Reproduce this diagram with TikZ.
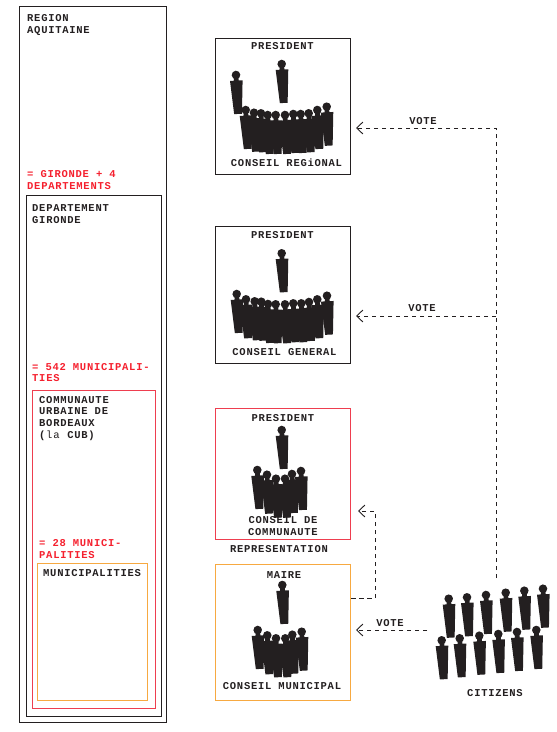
\documentclass[tikz,border=0pt]{standalone}
\usepackage{fontspec}
\usepackage{xcolor}
\usetikzlibrary{arrows.meta}
\newfontfamily\lblfont[LetterSpace=7,BoldFont={Liberation Mono Bold}]{Liberation Mono}
\definecolor{inkk}{HTML}{231F20}
\definecolor{redtxt}{HTML}{F5202E}
\definecolor{redbox}{HTML}{EE3E4F}
\definecolor{orgbox}{HTML}{F7A941}
\begin{document}
\begin{tikzpicture}[
  x=1pt, y=-1pt,
  font=\fontsize{10.5}{11.6}\selectfont\lblfont\bfseries,
  bx/.style={rectangle, draw=inkk, line width=0.9pt, fill=none, inner sep=0pt},
  rbx/.style={bx, draw=redbox},
  obx/.style={bx, draw=orgbox},
  lb/.style={text=inkk, inner sep=0pt, anchor=base},
  ll/.style={lb, anchor=base west, align=left},
  rl/.style={ll, text=redtxt},
  vote/.style={-{Straight Barb[length=2.2mm,width=4.2mm]}, dash pattern=on 4.5pt off 3.5pt, line width=0.9pt, draw=inkk},
  pers/.pic={
    \fill[inkk] (0,0) circle (4.3);
    \fill[inkk] (-2.2,2) -- (2.2,2) -- (2.4,5.6) -- (6.3,5.6) -- (3.9,39) -- (-3.9,39) -- (-6.3,5.6) -- (-2.4,5.6) -- cycle;
  }
]
  \useasboundingbox (0,0) rectangle (557,732);

  \node[bx, minimum width=147pt, minimum height=716pt] (aquitaine) at (92.5,364) {};
  \node[bx, minimum width=135pt, minimum height=521pt] (gironde) at (93.5,455.5) {};
  \node[rbx, minimum width=123pt, minimum height=318pt] (cub) at (93.5,549) {};
  \node[obx, minimum width=110pt, minimum height=137pt] (munis) at (92,631.5) {};

  \node[bx, minimum width=135pt, minimum height=136pt] (regional) at (282.5,106) {};
  \node[bx, minimum width=135pt, minimum height=137pt] (general) at (282.5,294.5) {};
  \node[rbx, minimum width=135pt, minimum height=131pt] (communaute) at (282.5,473.5) {};
  \node[obx, minimum width=135pt, minimum height=136pt] (municipal) at (282.5,632) {};

  \node[ll] (aqlbl) at (27,33) {REGION\\AQUITAINE};
  \node[rl] (girlbl) at (27,189) {= GIRONDE + 4\\DEPARTEMENTS};
  \node[ll] (deplbl) at (32,223) {DEPARTEMENT\\GIRONDE};
  \node[rl] (n542) at (32,381.7) {= 542 MUNICIPALI-\\TIES};
  \node[ll] (cublbl) at (39,438) {COMMUNAUTE\\URBAINE DE\\BORDEAUX\\(\textmd{la} CUB)};
  \node[rl] (n28) at (39,558) {= 28 MUNICI-\\PALITIES};
  \node[ll] (munlbl) at (43,576) {MUNICIPALITIES};

  \node[lb] (pres1) at (282.5,49) {PRESIDENT};
  \node[lb] (cons1) at (286.5,166) {CONSEIL REGiONAL};
  \node[lb] (pres2) at (282.5,238) {PRESIDENT};
  \node[lb] (cons2) at (284.5,355) {CONSEIL GENERAL};
  \node[lb] (pres3) at (283,421) {PRESIDENT};
  \node[lb, align=center] (cons3) at (283,535) {CONSEIL DE\\COMMUNAUTE};
  \node[lb] (repr) at (279,552) {REPRESENTATION};
  \node[lb] (maire) at (284,578) {MAIRE};
  \node[lb] (cons4) at (282,689) {CONSEIL MUNICIPAL};
  \node[lb] (citlbl) at (495,696) {CITIZENS};
  \node[lb] (v1) at (423,124.5) {VOTE};
  \node[lb] (v2) at (422,311.5) {VOTE};
  \node[lb] (v3) at (390,626) {VOTE};

  \foreach \x/\y in {236/75, 281.7/64, 245.7/110, 254/112.7, 261/113.3, 267.7/115, 275.7/115,
      285/115, 293.3/114, 300.7/114, 308.7/113.3, 317.3/110, 326.7/106.7}
    \pic[rotate=3] at (\x,\y) {pers};

  \foreach \x/\y in {281.7/253.3, 236.7/294, 246/299.3, 254.7/301.3, 261.3/301.7, 268/304, 275.7/304.3,
      285/304.3, 293.3/303.3, 301.3/303.3, 309/302, 317.3/299.3, 327/295.7}
    \pic[rotate=3] at (\x,\y) {pers};

  \foreach \x/\y in {281.7/430, 257.3/470, 267/474.7, 276/478.7, 285/478.7, 292/474, 301/471}
    \pic[rotate=3] at (\x,\y) {pers};

  \foreach \x/\y in {282.3/585, 257.7/630, 267.3/635.3, 276/638.3, 285.3/638.3, 292.3/634.7, 301.7/631.7}
    \pic[rotate=3] at (\x,\y) {pers};

  \foreach \x/\y in {448.7/598.7, 467/597.3, 486/595, 505.7/592.7, 524.3/590.7, 543/588.7,
      441.7/640.3, 459.7/638.3, 479.3/635.7, 498.3/634, 517/632, 536.3/630}
    \pic[rotate=3] at (\x,\y) {pers};

  \coordinate (cittop) at (496,578);
  \coordinate (citleft) at (427,630);
  \coordinate (branch) at (496,316);
  \coordinate (tor) at (356,128);
  \coordinate (tog) at (356,316);
  \coordinate (toc) at (358,511);
  \coordinate (tom) at (356,630);
  \coordinate (fromm) at (351,598);
  \coordinate (bend) at (375,598);

  \draw[vote] (cittop) |- (tor);
  \draw[vote] (branch) -- (tog);
  \draw[vote] (citleft) -- (tom);
  \draw[vote] (fromm) -- (bend) |- (toc);
\end{tikzpicture}
\end{document}
